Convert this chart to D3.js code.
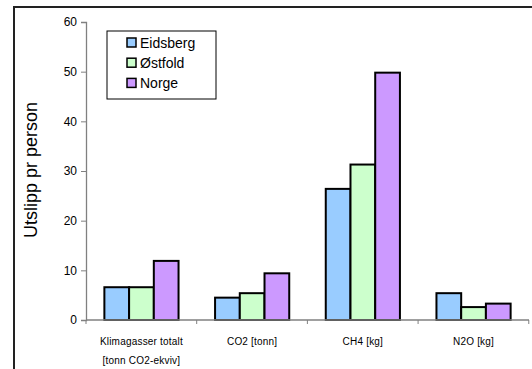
<!DOCTYPE html>
<html>
<head>
<meta charset="utf-8">
<script src="https://cdn.jsdelivr.net/npm/d3@7/dist/d3.min.js"></script>
<style>
  html, body { margin: 0; padding: 0; background: #fff; overflow: hidden; }
  svg { display: block; overflow: hidden; font-family: "Liberation Sans", Arial, sans-serif; }
</style>
</head>
<body>
<svg id="chart" width="532" height="369"></svg>
<script>
// Emissions per person by gas, for Eidsberg, Østfold and Norway
const categories = [
  ["Klimagasser totalt", "[tonn CO2-ekviv]"],
  ["CO2 [tonn]"],
  ["CH4 [kg]"],
  ["N2O [kg]"]
];
const seriesNames = ["Eidsberg", "Østfold", "Norge"];
const eidsberg = [6.6, 4.5, 26.4, 5.4];
const ostfold  = [6.6, 5.4, 31.3, 2.6];
const norge    = [11.9, 9.4, 49.8, 3.3];
const yTicks = [0, 10, 20, 30, 40, 50, 60];
const colors = ["#99CCFF", "#CCFFCC", "#CC99FF"];

const series = [eidsberg, ostfold, norge];

const svg = d3.select("#chart");
const plot = { left: 86, right: 529, top: 22, bottom: 320 };

// outer chart frame (its right and bottom edges run past the visible area)
svg.append("path")
  .attr("d", "M14,369 L14,7 L532,7")
  .attr("fill", "none").attr("stroke", "#222").attr("stroke-width", 2);

const x0 = d3.scaleBand()
  .domain(d3.range(categories.length))
  .range([plot.left, plot.right])
  .paddingInner(0.33).paddingOuter(0.166);
const x1 = d3.scaleBand()
  .domain(d3.range(seriesNames.length))
  .range([0, x0.bandwidth()]);
const y = d3.scaleLinear().domain([0, 60]).range([plot.bottom, plot.top]);

// bars
const groups = svg.append("g").selectAll("g")
  .data(categories.map((c, i) => i))
  .join("g")
  .attr("transform", i => `translate(${x0(i)},0)`);
groups.selectAll("rect")
  .data(i => series.map((s, k) => ({ k, v: s[i] })))
  .join("rect")
  .attr("x", d => x1(d.k))
  .attr("width", x1.bandwidth())
  .attr("y", d => y(d.v))
  .attr("height", d => y(0) - y(d.v))
  .attr("fill", d => colors[d.k])
  .attr("stroke", "#000").attr("stroke-width", 2);

// y axis
const yAxis = svg.append("g")
  .attr("transform", `translate(${plot.left},0)`)
  .call(d3.axisLeft(y).tickValues(yTicks).tickSize(5).tickPadding(4).tickFormat(d3.format("d")));
yAxis.select(".domain").attr("stroke", "#808080").attr("stroke-width", 1.3);
yAxis.selectAll(".tick line").attr("stroke", "#808080");
yAxis.selectAll(".tick text").attr("font-size", "12px").attr("fill", "#000")
  .attr("font-family", "Liberation Sans, Arial, sans-serif");

// x axis with ticks between categories
const step = x0.step();
const bounds = d3.range(categories.length + 1).map(i => x0(0) - x0.paddingOuter() * step + i * step);
svg.append("line")
  .attr("x1", plot.left).attr("x2", plot.right)
  .attr("y1", y(0)).attr("y2", y(0))
  .attr("stroke", "#808080").attr("stroke-width", 1.3);
svg.append("g").selectAll("line")
  .data(bounds)
  .join("line")
  .attr("x1", d => d).attr("x2", d => d)
  .attr("y1", y(0)).attr("y2", y(0) + 4)
  .attr("stroke", "#808080");

// category labels
svg.append("g").selectAll("text")
  .data(categories.map((c, i) => ({ c, i })))
  .join("text")
  .attr("text-anchor", "middle")
  .attr("font-size", "10px")
  .attr("letter-spacing", "0.2px")
  .attr("fill", "#000")
  .each(function (d) {
    const t = d3.select(this);
    d.c.forEach((line, j) => {
      t.append("tspan")
        .attr("x", x0(d.i) + x0.bandwidth() / 2)
        .attr("y", 345 + j * 19)
        .text(line);
    });
  });

// y axis title
svg.append("text")
  .attr("transform", "translate(37,170) rotate(-90)")
  .attr("text-anchor", "middle")
  .attr("font-size", "18px")
  .attr("fill", "#000")
  .text("Utslipp pr person");

// legend
const legend = svg.append("g");
legend.append("rect")
  .attr("x", 107).attr("y", 31).attr("width", 109).attr("height", 68)
  .attr("fill", "#fff").attr("stroke", "#000").attr("stroke-width", 1);
const items = legend.selectAll("g.item")
  .data(seriesNames.map((n, k) => ({ n, k })))
  .join("g").attr("class", "item")
  .attr("transform", d => `translate(127,${42.5 + d.k * 20.2})`);
items.append("rect")
  .attr("x", 0).attr("y", -4.5).attr("width", 9).attr("height", 9)
  .attr("fill", d => colors[d.k]).attr("stroke", "#000").attr("stroke-width", 1.5);
items.append("text")
  .attr("x", 13).attr("y", 5)
  .attr("font-size", "14px").attr("fill", "#000")
  .text(d => d.n);
</script>
</body>
</html>
